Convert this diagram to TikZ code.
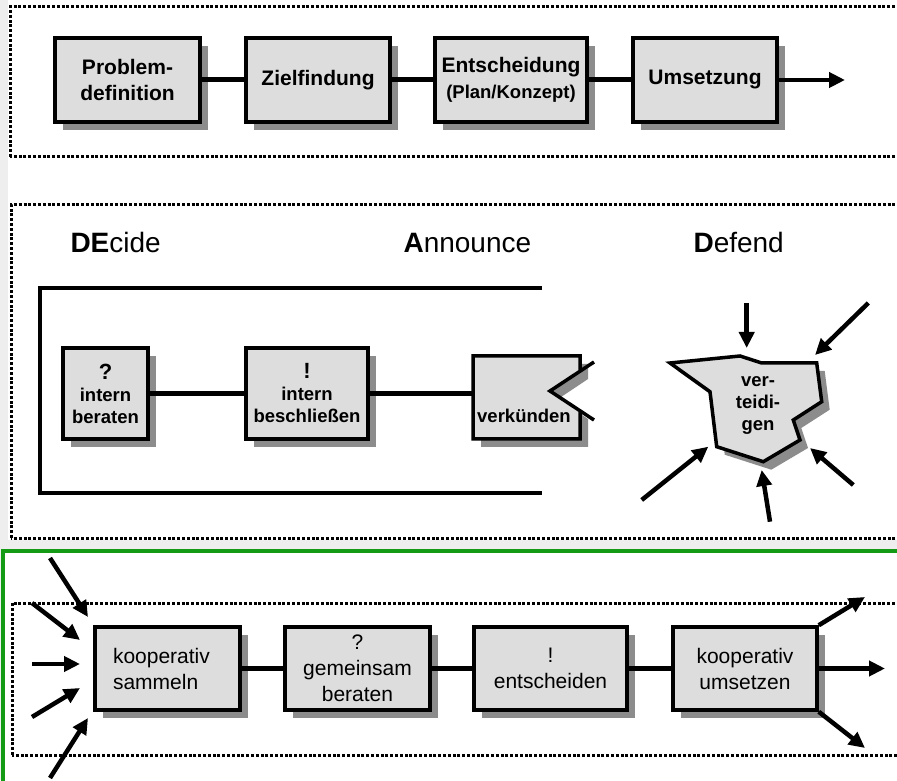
\documentclass[tikz,border=0pt]{standalone}
\usepackage{fontspec}
\setmainfont{Liberation Sans}
\usetikzlibrary{arrows.meta,shadows}
\definecolor{pagebg}{HTML}{EEEEEE}
\definecolor{boxgray}{HTML}{DDDDDD}
\definecolor{shadegray}{HTML}{8C8C8C}
\definecolor{framegreen}{HTML}{149A14}
\begin{document}
\begin{tikzpicture}[x=1pt, y=1pt, >={Triangle[length=16pt,width=15pt]},
    phase/.style ={draw, line width=3.5pt, fill=boxgray, align=center, inner sep=0pt,
        drop shadow={shadow xshift=8pt, shadow yshift=-8pt, fill=shadegray, opacity=1}},
    bigphase/.style ={phase, font=\bfseries\fontsize{21}{26}\selectfont, minimum height=84pt},
    smallphase/.style ={phase, font=\bfseries\fontsize{18.5}{22}\selectfont, minimum height=91pt},
    coopphase/.style ={phase, font=\fontsize{21}{26}\selectfont, minimum height=83pt},
    conn/.style ={line width=5pt},
    hit/.style ={line width=4.5pt, ->},
    frame/.style ={line width=3pt, dash pattern=on 3pt off 1.8pt},
    stage/.style ={anchor=base west, font=\fontsize{28}{32}\selectfont}]
   \useasboundingbox (0,0) rectangle (897,780);
   \clip (0,0) rectangle (897,780);
   % page background
   \fill[pagebg] (0,0) rectangle (897,780);
   \fill[white] (8,240) rectangle (897,780);
   \draw[framegreen, line width=3.5pt, fill=white] (3,-10) rectangle (905,229);
   \draw[frame] (10,623) rectangle (905,773);
   \draw[frame] (11,242) rectangle (905,575);
   \draw[frame] (12,25) rectangle (905,177);
   % classical sequence
   \node[bigphase, minimum width=145pt] (prob)  at (127.5,700) {Problem-\\definition};
   \node[bigphase, minimum width=144pt] (ziel)  at (318,700)   {Zielfindung};
   \node[bigphase, minimum width=152pt] (ents)  at (511,700)   {Entscheidung\\{\fontsize{18.5}{22}\selectfont(Plan/Konzept)}};
   \node[bigphase, minimum width=144pt] (ums)   at (705,700)   {Umsetzung};
   \coordinate (out) at (845,700);
   \draw[conn] (prob) -- (ziel) (ziel) -- (ents) (ents) -- (ums);
   \draw[hit] (ums) -- (out);
   % DAD
   \node[stage] (decide)   at (67,527)  {\textbf{DE}cide};
   \node[stage] (announce) at (400,527) {\textbf{A}nnounce};
   \node[stage] (defend)   at (690,527) {\textbf{D}efend};
   \draw[line width=4.5pt] (542,492) -- (40,492) -- (40,287) -- (542,287);
   \node[smallphase, minimum width=85pt]  (intber) at (105.5,386.5) {{\fontsize{22}{22}\selectfont ?}\\intern\\beraten};
   \node[smallphase, minimum width=122pt] (intbes) at (307,386.5)   {{\fontsize{22}{22}\selectfont !}\\intern\\beschließen};
   \fill[shadegray] (481,416) -- (588,416) -- (588,401) -- (558,381) -- (588,361) -- (588,333) -- (481,333) -- cycle;
   \fill[boxgray] (473,424) -- (580,424) -- (580,409) -- (550,389) -- (580,369) -- (580,341) -- (473,341) -- cycle;
   \draw[line width=3.5pt] (580,409) -- (580,424) -- (473,424) -- (473,341) -- (580,341) -- (580,369)
      (594,418) -- (550,389) -- (594,360);
   \node[font=\bfseries\fontsize{18.5}{22}\selectfont, anchor=west, inner sep=0pt, inner xsep=4pt] (verk) at (473,364) {verkünden};
   \draw[conn] (intber) -- (intbes) (intbes) -- (intbes -| verk.west);
   \fill[shadegray, shift={(8,-8)}] (670,417) -- (740,424) -- (761.7,417) -- (816.7,417) -- (821.7,378.3)
      -- (793.3,360) -- (800,340) -- (763.3,318.3) -- (716.7,333.3) -- (710,388.3) -- cycle;
   \filldraw[fill=boxgray, line width=3.5pt] (670,417) -- (740,424) -- (761.7,417) -- (816.7,417) -- (821.7,378.3)
      -- (793.3,360) -- (800,340) -- (763.3,318.3) -- (716.7,333.3) -- (710,388.3) -- cycle;
   \node[font=\bfseries\fontsize{18.5}{22}\selectfont, align=center] (vert) at (758,375) {ver-\\teidi-\\gen};
   \foreach \xa/\ya/\xb/\yb in {746.7/477/746.7/432, 868.3/477/815/425, 641.7/280/708.3/333.3,
                                770/258.3/761.7/310, 853.3/295/810/332}
      \draw[hit] (\xa,\ya) -- (\xb,\yb);
   % cooperative sequence
   \node[coopphase, minimum width=145pt, text width=109pt, align=left] (samm) at (167.5,111.5) {kooperativ\\sammeln};
   \node[coopphase, minimum width=145pt] (gemb)   at (357.5,111.5) {?\\gemeinsam\\beraten};
   \node[coopphase, minimum width=153pt] (entsch) at (550.5,111.5) {!\\entscheiden};
   \node[coopphase, minimum width=144pt] (umsetz) at (745,111.5)   {kooperativ\\umsetzen};
   \draw[conn] (samm) -- (gemb) (gemb) -- (entsch) (entsch) -- (umsetz);
   \foreach \xa/\ya/\xb/\yb in {50/222/88/163, 32/177/80/140, 32/116/80/116, 32/63/80/92, 50/2/88/62}
      \draw[hit] (\xa,\ya) -- (\xb,\yb);
   \draw[hit] (umsetz.north east) -- (865,183);
   \draw[hit] (umsetz) -- (885,111.5);
   \draw[hit] (umsetz.south east) -- (865,32);
\end{tikzpicture}
\end{document}
